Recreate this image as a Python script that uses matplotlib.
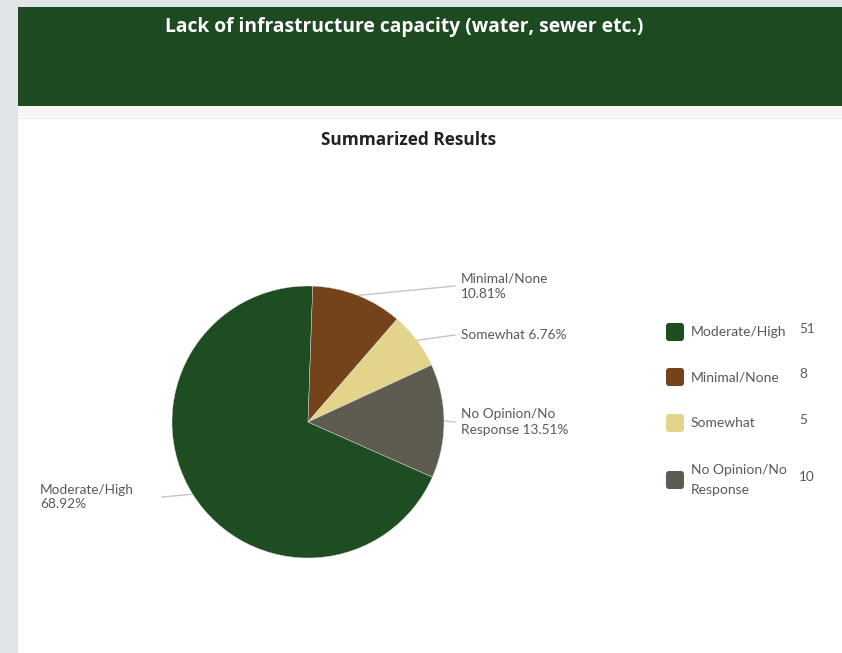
import matplotlib.pyplot as plt
import numpy as np
from matplotlib.patches import Rectangle, FancyBboxPatch

## Data ##
categories = ['Moderate/High', 'Minimal/None', 'Somewhat', 'No Opinion/No\nResponse']
counts = [51, 8, 5, 10]
colors = ['#1e4d21', '#74421b', '#e2d48a', '#5e5c50']
slice_labels = ['Moderate/High\n{:.2f}%', 'Minimal/None\n{:.2f}%', 'Somewhat {:.2f}%',
                'No Opinion/No\nResponse {:.2f}%']

W, H = 842, 653
fig = plt.figure(figsize=(W / 100, H / 100), dpi=100)
fig.patch.set_facecolor('#e2e5e8')

# full-figure overlay in pixel coordinates (y down)
bg = fig.add_axes([0, 0, 1, 1])
bg.set_xlim(0, W)
bg.set_ylim(H, 0)
bg.axis('off')

bg.add_patch(Rectangle((18, 7), W - 18, 99, facecolor='#1d4a21', edgecolor='none'))
bg.add_patch(Rectangle((18, 106), W - 18, 11, facecolor='#f6f6f7', edgecolor='none'))
bg.add_patch(Rectangle((18, 117), W - 18, H - 117, facecolor='white', edgecolor='none'))
bg.plot([18, W], [117.5, 117.5], color='#f1e4e4', lw=0.8)

bg.text(404, 27, 'Lack of infrastructure capacity (water, sewer etc.)', color='white',
        fontsize=13.9, fontweight='bold', family='Open Sans', ha='center', va='center')
bg.text(409, 140, 'Summarized Results', color='#222222', fontsize=12.4,
        fontweight='bold', family='Open Sans', ha='center', va='center')

## Pie ##
cx, cy, r = 308, 422, 136
pax = fig.add_axes([(cx - r) / W, (H - cy - r) / H, 2 * r / W, 2 * r / H])
total = sum(counts)
start = 88 + 360 * counts[0] / total
wedges, _ = pax.pie(counts, colors=colors, startangle=start, counterclock=False,
                    radius=1, wedgeprops=dict(edgecolor='#dddddd', linewidth=0.3))
pax.set_xlim(-1, 1)
pax.set_ylim(-1, 1)
pax.set_aspect('equal')
pax.axis('off')

# slice labels with leader lines
text_pos = [(40, 497), (461, 286), (461, 335), (461, 422)]
for w, lab, n, (tx, ty) in zip(wedges, slice_labels, counts, text_pos):
    ang = np.deg2rad((w.theta1 + w.theta2) / 2)
    ex, ey = cx + r * np.cos(ang), cy - r * np.sin(ang)
    lx = tx - 6 if tx > cx else 162
    bg.plot([ex, lx], [ey, ty], color='#c4c4c4', lw=1)
    bg.text(tx, ty, lab.format(100 * n / total), color='#595959', fontsize=9.8,
            family='Lato', ha='left', va='center', linespacing=1.3)

## Legend ##
legend_y = [332, 377, 423, 480]
for cat, n, c, ly in zip(categories, counts, colors, legend_y):
    bg.add_patch(FancyBboxPatch((666, ly - 9), 18, 18, boxstyle='round,pad=0,rounding_size=3',
                                facecolor=c, edgecolor='none'))
    bg.text(691, ly, cat, color='#595959', fontsize=10, family='Lato',
            ha='left', va='center', linespacing=1.75)
    bg.text(799, ly - 3, str(n), color='#595959', fontsize=9.8, family='Lato',
            ha='left', va='center')

fig.savefig('out.png', dpi=100)
